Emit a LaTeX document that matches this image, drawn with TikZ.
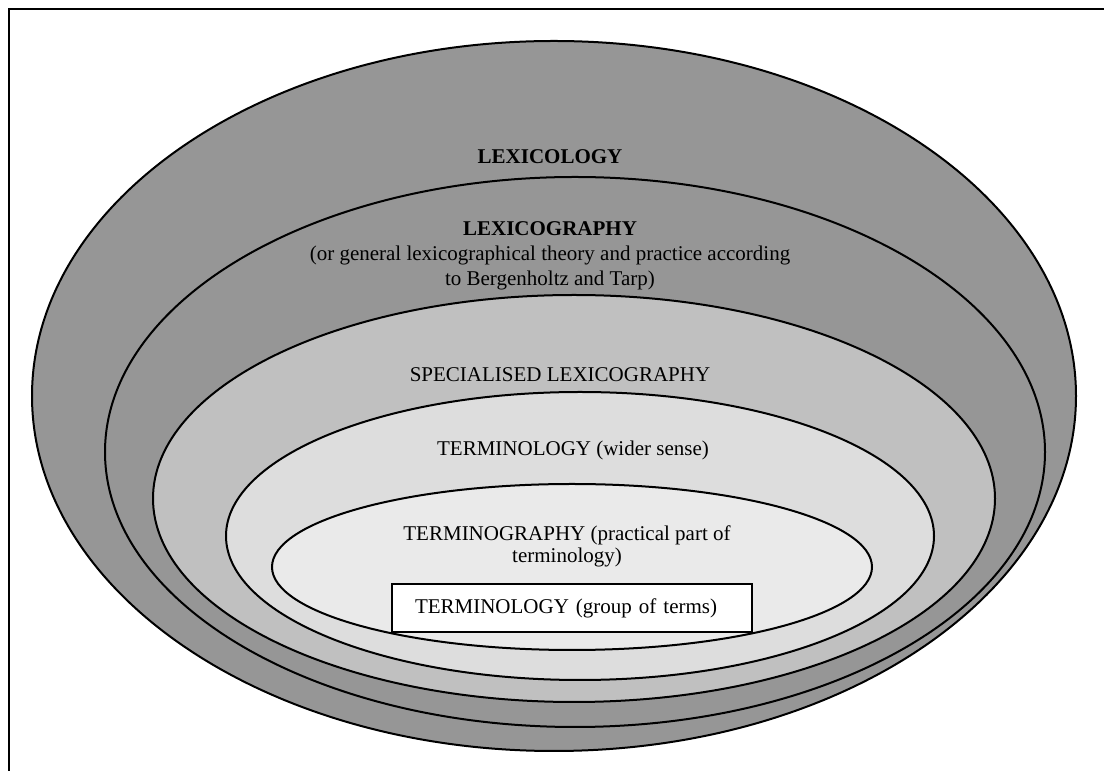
\documentclass[tikz,border=0pt]{standalone}
\usepackage{fontspec}
\setmainfont{Liberation Serif}
\usepackage{tikz}
\usetikzlibrary{positioning}
\definecolor{lexgray}{gray}{0.59}
\definecolor{spegray}{gray}{0.753}
\definecolor{widegray}{gray}{0.867}
\definecolor{graphgray}{gray}{0.918}
\tikzstyle{ring} = [draw=black, line width=1pt]
\tikzstyle{lbl} = [draw=none, inner sep=0, align=center, font=\fontsize{10.5}{12.5}\selectfont]

\begin{document}
\begin{tikzpicture}[x=0.5pt, y=0.5pt]
\useasboundingbox (0,0) rectangle (1104,771);
%\draw [help lines] (0,0) grid (1104,771);
\draw [line width=1pt] (9,0) -- (9,762) -- (1104,762);
% nested fields, outer to inner
\filldraw [ring, fill=lexgray] (554,375) ellipse [x radius=522, y radius=355];
\filldraw [ring, fill=lexgray] (575,319) ellipse [x radius=470, y radius=275];
\filldraw [ring, fill=spegray] (574,272.5) ellipse [x radius=421, y radius=203.5];
\filldraw [ring, fill=widegray] (580,235) ellipse [x radius=354, y radius=144];
\filldraw [ring, fill=graphgray] (572,204) ellipse [x radius=300, y radius=83];
% labels
\node [lbl, font=\fontsize{10.5}{12.5}\selectfont\bfseries] (lexicology) at (550,614) {LEXICOLOGY};
\node [lbl] (lexicography) at (550,515) {\textbf{LEXICOGRAPHY}\\(or general lexicographical theory and practice according\\to Bergenholtz and Tarp)};
\node [lbl] (special) at (560,396) {SPECIALISED LEXICOGRAPHY};
\node [lbl] (wider) at (573,321) {TERMINOLOGY (wider sense)};
\node [lbl, font=\fontsize{10.5}{11}\selectfont] (terminography) at (567,225) {TERMINOGRAPHY (practical part of\\terminology)};
\node [draw, line width=1pt, fill=white, inner xsep=11.5pt, inner ysep=0, minimum height=24pt,
  text width=157pt, align=left, font=\fontsize{10.5}{12.5}\selectfont] (terms) at (572,163) {TERMINOLOGY (group of terms)};
\end{tikzpicture}
\end{document}
